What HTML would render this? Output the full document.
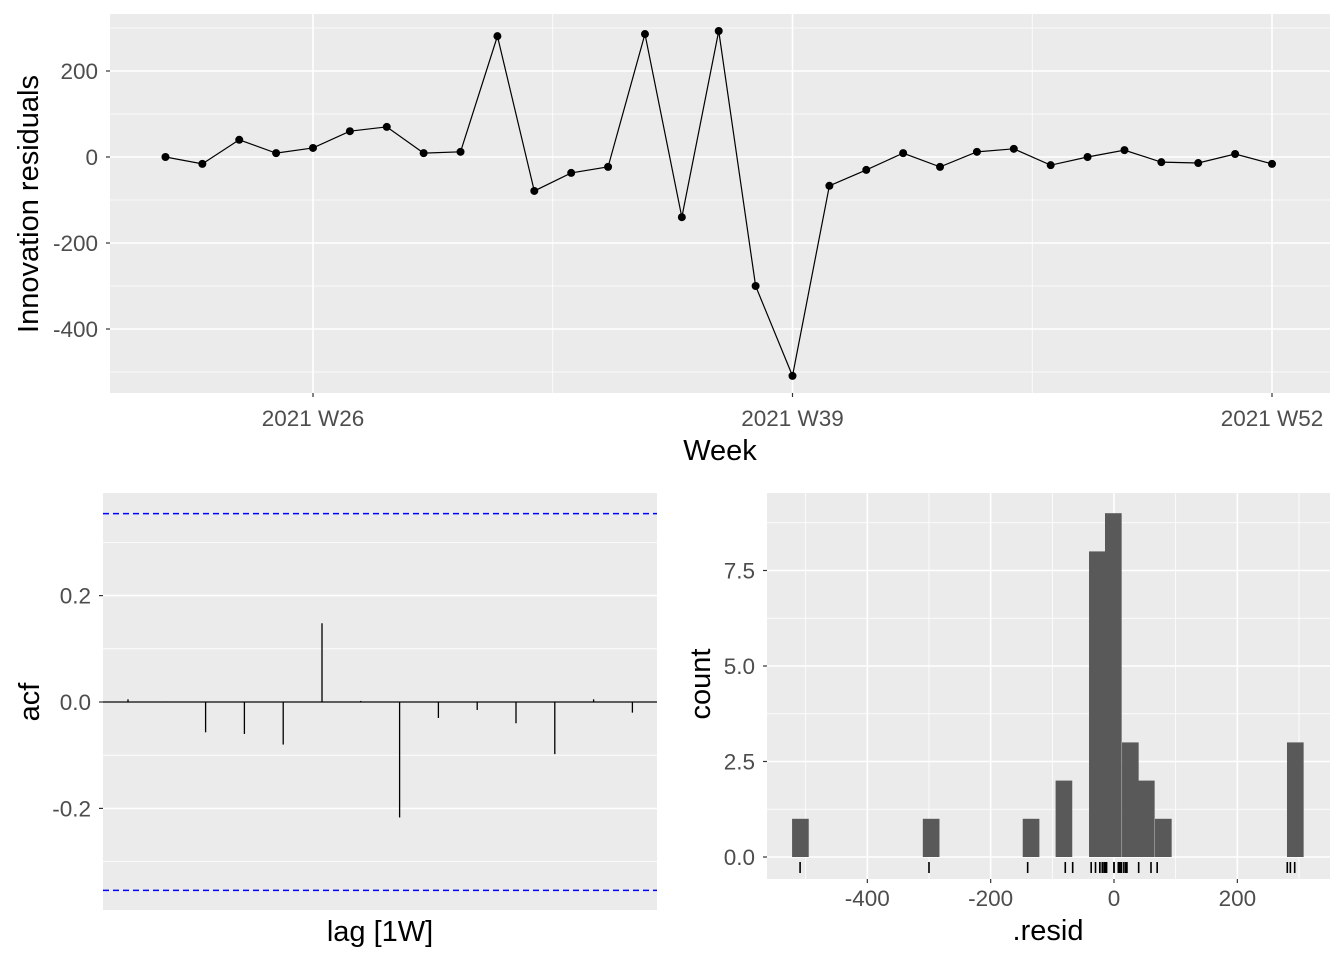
<!DOCTYPE html>
<html><head><meta charset="utf-8"><style>
html,body{margin:0;padding:0;background:#fff;}
svg{display:block;font-family:"Liberation Sans",Arial,sans-serif;}
</style></head><body>
<svg id="c" width="1344" height="960" xmlns="http://www.w3.org/2000/svg"></svg>
<script>
const weeks = [22,23,24,25,26,27,28,29,30,31,32,33,34,35,36,37,38,39,40,41,42,43,44,45,46,47,48,49,50,51,52];
const residuals = [0,-16,40,9,21,60,70,9,12,281,-79,-37,-23,286,-140,293,-300,-509,-67,-30,9,-23,12,19,-19,0,16,-12,-14,7,-16];
const yTicksTop = [200,0,-200,-400];
const xTickWeeks = [26,39,52];
const xTickLabels = ["2021 W26","2021 W39","2021 W52"];
const lags = [1,2,3,4,5,6,7,8,9,10,11,12,13,14];
const acfValues = [0.005,0.001,-0.057,-0.060,-0.080,0.148,0.002,-0.217,-0.030,-0.015,-0.040,-0.098,0.005,-0.020];
const acfTicks = [0.2,0.0,-0.2];
const acfBound = 0.354;
const binStarts = [-522,-310,-148,-94.7,-40.5,-14.6,13,38.9,66.5,280.5];
const binCounts = [1,1,1,2,8,9,3,2,1,3];
const binWidth = 27;
const histXTicks = [-400,-200,0,200];
const histYTicks = [0,2.5,5,7.5];

const svg = document.getElementById('c');
const NS = "http://www.w3.org/2000/svg";
const TICK=22.5, TITLE=29;
function el(tag, attrs, parent){const e=document.createElementNS(NS,tag);for(const k in attrs)e.setAttribute(k,attrs[k]);(parent||svg).appendChild(e);return e;}
function txt(s, attrs, parent){const e=el('text',attrs,parent);e.textContent=s;return e;}

// ---------- TOP PANEL ----------
const tp={x0:110,x1:1330,y0:14,y1:393};
const xW = w => 313 + (w-26)*(1272-313)/26;
const yR = v => 157 - v*0.43;
const g1 = el('g',{});


el('rect',{x:tp.x0,y:tp.y0,width:tp.x1-tp.x0,height:tp.y1-tp.y0,fill:'#ebebeb'},g1);
[300,100,-100,-300,-500].forEach(v=>el('line',{x1:tp.x0,x2:tp.x1,y1:yR(v),y2:yR(v),stroke:'#fff','stroke-width':0.8},g1));
[19.5,32.5,45.5].forEach(w=>el('line',{x1:xW(w),x2:xW(w),y1:tp.y0,y2:tp.y1,stroke:'#fff','stroke-width':0.8},g1));
yTicksTop.forEach(v=>{
  el('line',{x1:tp.x0,x2:tp.x1,y1:yR(v),y2:yR(v),stroke:'#fff','stroke-width':1.6},g1);
  el('line',{x1:tp.x0-4,x2:tp.x0,y1:yR(v),y2:yR(v),stroke:'#333','stroke-width':1.2},g1);
  const t=txt(String(v),{x:tp.x0-12,y:yR(v)+8,'text-anchor':'end','font-size':TICK,fill:'#4d4d4d'},g1);
  
});
xTickWeeks.forEach((w,i)=>{
  el('line',{x1:xW(w),x2:xW(w),y1:tp.y0,y2:tp.y1,stroke:'#fff','stroke-width':1.6},g1);
  el('line',{x1:xW(w),x2:xW(w),y1:tp.y1,y2:tp.y1+4,stroke:'#333','stroke-width':1.2},g1);
  const t=txt(xTickLabels[i],{x:xW(w),y:426,'text-anchor':'middle','font-size':TICK,fill:'#4d4d4d'},g1);
  
});
const pl=el('polyline',{points:weeks.map((w,i)=>xW(w)+','+yR(residuals[i])).join(' '),fill:'none',stroke:'#000','stroke-width':1.2},g1);

weeks.forEach((w,i)=>{const c=el('circle',{cx:xW(w),cy:yR(residuals[i]),r:4,fill:'#000'},g1);
  });
let t1=txt('Week',{x:720,y:460,'text-anchor':'middle','font-size':TITLE,fill:'#000'},g1);

t1=txt('Innovation residuals',{x:0,y:0,transform:'translate(38,204) rotate(-90)','text-anchor':'middle','font-size':TITLE,fill:'#000'},g1);


// ---------- ACF PANEL ----------
const ap={x0:103,x1:657,y0:493,y1:910};
const xL = l => 128 + (l-1)*38.8;
const yA = v => 702 - v*532;
const g2=el('g',{});


el('rect',{x:ap.x0,y:ap.y0,width:ap.x1-ap.x0,height:ap.y1-ap.y0,fill:'#ebebeb'},g2);
[0.3,0.1,-0.1,-0.3].forEach(v=>el('line',{x1:ap.x0,x2:ap.x1,y1:yA(v),y2:yA(v),stroke:'#fff','stroke-width':0.8},g2));
acfTicks.forEach(v=>{
  el('line',{x1:ap.x0,x2:ap.x1,y1:yA(v),y2:yA(v),stroke:'#fff','stroke-width':1.6},g2);
  el('line',{x1:ap.x0-4,x2:ap.x0,y1:yA(v),y2:yA(v),stroke:'#333','stroke-width':1.2},g2);
  const t=txt(v.toFixed(1),{x:ap.x0-12,y:yA(v)+8,'text-anchor':'end','font-size':TICK,fill:'#4d4d4d'},g2);
  
});
el('line',{x1:ap.x0,x2:ap.x1,y1:yA(0),y2:yA(0),stroke:'#000','stroke-width':1.2},g2);
[acfBound,-acfBound].forEach(b=>{const l=el('line',{x1:ap.x0,x2:ap.x1,y1:yA(b),y2:yA(b),stroke:'#0000ff','stroke-width':1.5,'stroke-dasharray':'6,4'},g2);
  });
lags.forEach((l,i)=>{const s=el('line',{x1:xL(l),x2:xL(l),y1:yA(0),y2:yA(acfValues[i]),stroke:'#000','stroke-width':1.3},g2);
  });
let t2=txt('lag [1W]',{x:380,y:941,'text-anchor':'middle','font-size':TITLE,fill:'#000'},g2);

t2=txt('acf',{x:0,y:0,transform:'translate(39,702) rotate(-90)','text-anchor':'middle','font-size':TITLE,fill:'#000'},g2);


// ---------- HISTOGRAM PANEL ----------
const hp={x0:767,x1:1330,y0:493,y1:879};
const xH = v => 1114 + v*0.6167;
const yH = c => 857 - c*38.2;
const g3=el('g',{});


el('rect',{x:hp.x0,y:hp.y0,width:hp.x1-hp.x0,height:hp.y1-hp.y0,fill:'#ebebeb'},g3);
[-500,-300,-100,100,300].forEach(v=>el('line',{x1:xH(v),x2:xH(v),y1:hp.y0,y2:hp.y1,stroke:'#fff','stroke-width':0.8},g3));
[1.25,3.75,6.25,8.75].forEach(v=>el('line',{x1:hp.x0,x2:hp.x1,y1:yH(v),y2:yH(v),stroke:'#fff','stroke-width':0.8},g3));
histXTicks.forEach(v=>{
  el('line',{x1:xH(v),x2:xH(v),y1:hp.y0,y2:hp.y1,stroke:'#fff','stroke-width':1.6},g3);
  el('line',{x1:xH(v),x2:xH(v),y1:hp.y1,y2:hp.y1+4,stroke:'#333','stroke-width':1.2},g3);
  const t=txt(String(v),{x:xH(v),y:906,'text-anchor':'middle','font-size':TICK,fill:'#4d4d4d'},g3);
  
});
histYTicks.forEach(v=>{
  el('line',{x1:hp.x0,x2:hp.x1,y1:yH(v),y2:yH(v),stroke:'#fff','stroke-width':1.6},g3);
  el('line',{x1:hp.x0-4,x2:hp.x0,y1:yH(v),y2:yH(v),stroke:'#333','stroke-width':1.2},g3);
  const t=txt(v.toFixed(1),{x:hp.x0-12,y:yH(v)+8,'text-anchor':'end','font-size':TICK,fill:'#4d4d4d'},g3);
  
});
binStarts.forEach((b,i)=>{const r=el('rect',{x:xH(b),y:yH(binCounts[i]),width:binWidth*0.6167,height:yH(0)-yH(binCounts[i]),fill:'#595959'},g3);
  });
residuals.forEach(v=>{const r=el('line',{x1:xH(v),x2:xH(v),y1:862,y2:873,stroke:'#000','stroke-width':1.6},g3);
  });
let t3=txt('.resid',{x:1048,y:940,'text-anchor':'middle','font-size':TITLE,fill:'#000'},g3);

t3=txt('count',{x:0,y:0,transform:'translate(710,684) rotate(-90)','text-anchor':'middle','font-size':TITLE,fill:'#000'},g3);

</script>
</body></html>
